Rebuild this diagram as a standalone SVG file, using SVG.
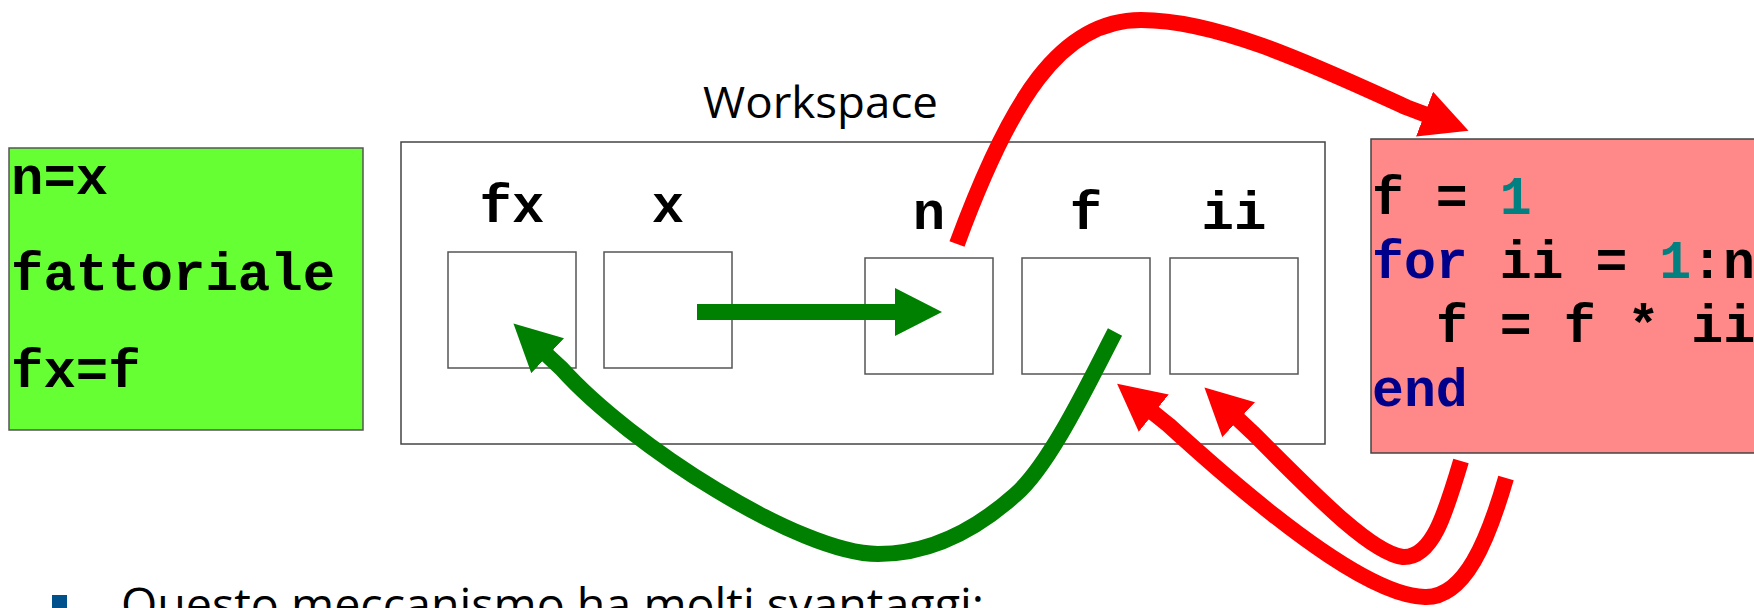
<svg xmlns="http://www.w3.org/2000/svg" width="1754" height="608" viewBox="0 0 1754 608">
  <style>
    .code { font-family: "Liberation Mono", "Courier New", monospace; font-weight: bold; font-size: 54px; fill: #000; }
    .body { font-size: 53.2px; }
    .label { font-family: "Liberation Mono", "Courier New", monospace; font-weight: bold; font-size: 54px; fill: #000; text-anchor: middle; }
    .kw { fill: #00008B; }
    .num { fill: #008080; }
    .cell { fill: #fff; stroke: #555; stroke-width: 1.5; }
    .sans { font-family: "Open Sans", "Noto Sans", sans-serif; fill: #000; }
    .red { fill: none; stroke: #FF0000; stroke-width: 16; }
    .green { fill: none; stroke: #008000; stroke-width: 16; }
  </style>
  <defs>
    <marker id="headRed" markerUnits="userSpaceOnUse" viewBox="0 0 47 48" markerWidth="47" markerHeight="48" refX="1" refY="24" orient="auto">
      <path d="M0,0 L47,24 L0,48 Z" fill="#FF0000"/>
    </marker>
    <marker id="headGreen" markerUnits="userSpaceOnUse" viewBox="0 0 47 48" markerWidth="47" markerHeight="48" refX="1" refY="24" orient="auto">
      <path d="M0,0 L47,24 L0,48 Z" fill="#008000"/>
    </marker>
  </defs>

  <rect width="1754" height="608" fill="#fff"/>

  <!-- caller script -->
  <g id="caller">
    <rect x="9" y="148" width="354" height="282" fill="#66FF33" stroke="#555" stroke-width="1.5"/>
    <text class="code" x="11" y="194">n=x</text>
    <text class="code" x="11" y="290">fattoriale</text>
    <text class="code" x="11" y="387">fx=f</text>
  </g>

  <!-- workspace with its variables -->
  <g id="workspace">
    <text class="sans" x="703" y="118" font-size="44" textLength="235" lengthAdjust="spacingAndGlyphs">Workspace</text>
    <rect x="401" y="142" width="924" height="302" fill="#fff" stroke="#444" stroke-width="1.5"/>
  </g>
  <g id="var-fx">
    <text class="label" x="512" y="222">fx</text>
    <rect class="cell" x="448" y="252" width="128" height="116"/>
  </g>
  <g id="var-x">
    <text class="label" x="668" y="222">x</text>
    <rect class="cell" x="604" y="252" width="128" height="116"/>
  </g>
  <g id="var-n">
    <text class="label" x="929" y="229">n</text>
    <rect class="cell" x="865" y="258" width="128" height="116"/>
  </g>
  <g id="var-f">
    <text class="label" x="1086" y="229">f</text>
    <rect class="cell" x="1022" y="258" width="128" height="116"/>
  </g>
  <g id="var-ii">
    <text class="label" x="1234" y="229">ii</text>
    <rect class="cell" x="1170" y="258" width="128" height="116"/>
  </g>

  <!-- function body -->
  <g id="function">
    <rect x="1371" y="139" width="400" height="314" fill="#FF8888" stroke="#444" stroke-width="1.5"/>
    <text class="code body" x="1372" y="214">f = <tspan class="num">1</tspan></text>
    <text class="code body" x="1372" y="278"><tspan class="kw">for</tspan> ii = <tspan class="num">1</tspan>:n</text>
    <text class="code body" x="1436" y="342">f = f * ii</text>
    <text class="code body kw" x="1372" y="406">end</text>
  </g>

  <!-- data flow -->
  <g id="connectors">
    <path class="green" d="M697,312 L896,312" marker-end="url(#headGreen)"/>
    <path class="red" d="M957,244 C1010,100 1060,20 1141,20 C1220,20 1320,68 1406.8,107.4 L1425.5,114.5" marker-end="url(#headRed)"/>
    <path class="green" d="M1115,332 C1090,380 1050,465 1015,495 C970,535 925,554 878,554 C800,554 630,445 561.6,368.7 L547,355" marker-end="url(#headGreen)"/>
    <path class="red" d="M1506,478 C1488,540 1465,598 1425,597 C1380,596 1300,545 1168.6,425 L1153,412.5" marker-end="url(#headRed)"/>
    <path class="red" d="M1461,461 C1445,515 1432,558 1403,557 C1370,553 1310,490 1252.6,432.7 L1238,419" marker-end="url(#headRed)"/>
  </g>

  <!-- bullet line -->
  <g id="bullet">
    <rect x="52" y="595" width="15" height="15" fill="#00508C"/>
    <text class="sans" x="121" y="621" font-size="46" textLength="863" lengthAdjust="spacingAndGlyphs">Questo meccanismo ha molti svantaggi:</text>
  </g>
</svg>
